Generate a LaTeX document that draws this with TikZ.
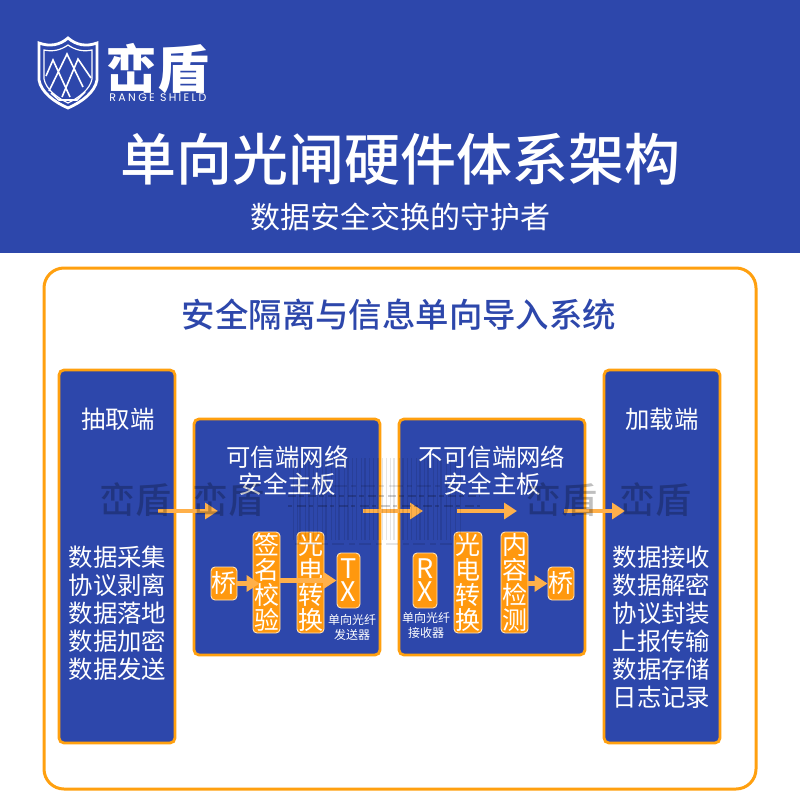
\documentclass[tikz,border=0pt]{standalone}
\usepackage{fontspec}
\setmainfont{Noto Sans CJK SC}
\newfontfamily\cjkmed{Noto Sans CJK SC Medium}
\newfontfamily\cjkblack{Noto Sans CJK SC Black}
\newfontfamily\latinwide[LetterSpace=21]{Poppins}
\usetikzlibrary{arrows.meta}
\definecolor{bandblue}{HTML}{2D47AB}
\definecolor{frameorange}{HTML}{FFA00F}
\definecolor{arroworange}{HTML}{FFB04A}
\newcommand{\fs}[2]{\fontsize{#1}{#2}\selectfont\lineskiplimit=-100pt\relax}
\tikzset{
 x=1pt,y=-1pt,
 bluebox/.style={draw=frameorange,fill=bandblue,line width=2.8pt,rounded corners=5pt,inner sep=0pt},
 boxtext/.style={text=white,font=\fs{24.4}{28},align=center,inner sep=0pt},
 chip/.style={draw=white!70!frameorange,fill=frameorange!95!red,line width=0.9pt,rounded corners=4pt,text=white,align=center,inner sep=0pt,font=\fs{25}{25}},
 micro/.style={text=white,font=\fs{12}{15},align=center,inner sep=0pt},
 flow/.style={draw=arroworange,line width=3.6pt,-{Triangle[length=13pt,width=16pt]}},
 innerflow/.style={flow,line width=4.6pt},
 wm/.style={text=black,opacity=0.25,font=\cjkmed\fs{36}{36},inner sep=0pt},
 bar/.style={draw=black,opacity=0.1},
}
\begin{document}
\begin{tikzpicture}
\useasboundingbox (0,0) rectangle (800,800);
\fill[white] (0,0) rectangle (800,800);
\fill[bandblue] (0,0) rectangle (800,253);

% logo shield
\draw[white,line width=2.8pt,line join=miter] (39,43) .. controls (50,47) and (60,45) .. (68,38) .. controls (76,45) and (86,47) .. (97,43) -- (97,80) .. controls (95,92) and (82,102) .. (68,108) .. controls (54,102) and (41,92) .. (39,80) -- cycle;
\draw[white,line width=1.2pt] (44,50) .. controls (53,52) and (61,50) .. (68,45) .. controls (75,50) and (83,52) .. (92,50) -- (92,79) .. controls (90,89) and (80,97) .. (68,103) .. controls (56,97) and (46,89) .. (44,79) -- cycle;
\draw[white,line width=1.6pt,line join=miter]
 (46,76) -- (53,60) -- (70,97)
 (49,91) -- (67,54) -- (83,87)
 (62,97) -- (78,59) -- (91,78)
 (51,93) -- (59,100) -- (77,100) -- (85,92);
\node[inner sep=0pt,text=white,font=\cjkblack\fs{52}{52}] (logomark) at (157.5,69) {峦盾};
\node[inner sep=0pt,text=white,font=\latinwide\fs{11}{11}] (logoname) at (158,98) {RANGE SHIELD};

\node[inner sep=0pt,text=white,font=\cjkmed\fs{56}{56}] (maintitle) at (400,159) {单向光闸硬件体系架构};
\node[inner sep=0pt,text=white,font=\fs{30}{30}] (subtitle) at (400.5,217) {数据安全交换的守护者};

\node[draw=frameorange,fill=white,line width=3pt,rounded corners=20pt,minimum width=712pt,minimum height=521pt,inner sep=0pt] (panel) at (400,528.5) {};
\node[inner sep=0pt,text=bandblue,font=\cjkmed\fs{33.4}{34}] (paneltitle) at (399,315) {安全隔离与信息单向导入系统};

\node[bluebox,minimum width=116pt,minimum height=373pt] (left) at (117,556.5) {};
\node[bluebox,minimum width=116pt,minimum height=373pt] (right) at (662,556.5) {};
\node[bluebox,minimum width=186pt,minimum height=236pt] (midA) at (287,537) {};
\node[bluebox,minimum width=186pt,minimum height=236pt] (midB) at (492,537) {};

\node[boxtext] (lefthead) at (118,419) {抽取端};
\node[boxtext] (righthead) at (662,419) {加载端};
\node[boxtext] (leftlist) at (117.5,613) {数据采集\\协议剥离\\数据落地\\数据加密\\数据发送};
\node[boxtext] (rightlist) at (661.5,627) {数据接收\\数据解密\\协议封装\\上报传输\\数据存储\\日志记录};
\node[boxtext,font=\fs{24.4}{27}] (headA) at (287.5,470.5) {可信端网络\\安全主板};
\node[boxtext,font=\fs{24.4}{27}] (headB) at (492,470.5) {不可信端网络\\安全主板};

\node[chip,minimum width=26pt,minimum height=33pt] (bridgeA) at (224,583.5) {桥};
\node[chip,minimum width=27pt,minimum height=101pt] (sign) at (266.5,582.5) {签\\名\\校\\验};
\node[chip,minimum width=27pt,minimum height=101pt] (peA) at (310.5,582.5) {光\\电\\转\\换};
\node[chip,minimum width=23pt,minimum height=55pt,font=\fs{27}{23}] (tx) at (348.5,580.5) {T\\X};
\node[micro] (txnote) at (352,627.5) {单向光纤\\发送器};

\node[chip,minimum width=24pt,minimum height=55pt,font=\fs{27}{23}] (rx) at (425,580.5) {R\\X};
\node[micro] (rxnote) at (426,625) {单向光纤\\接收器};
\node[chip,minimum width=28pt,minimum height=101pt] (peB) at (468,582.5) {光\\电\\转\\换};
\node[chip,minimum width=27pt,minimum height=101pt] (check) at (514.5,582.5) {内\\容\\检\\测};
\node[chip,minimum width=26pt,minimum height=33pt] (bridgeB) at (561,583.5) {桥};

% connectors
\coordinate (a1) at (158,511); \coordinate (a2) at (218,511);
\coordinate (b1) at (363,511); \coordinate (b2) at (423,511);
\coordinate (c1) at (457,511); \coordinate (c2) at (517,511);
\coordinate (d1) at (564,511); \coordinate (d2) at (625,511);
\draw[flow] (a1) -- (a2);
\draw[flow] (b1) -- (b2);
\draw[flow] (c1) -- (c2);
\draw[flow] (d1) -- (d2);
\draw[innerflow] (bridgeA.east) -- ([xshift=7pt]sign.west |- bridgeA.east);
\draw[innerflow] (sign.east |- tx.west) -- (tx.west);
\draw[innerflow] (check.east |- bridgeB.west) -- (bridgeB.west);

% watermark
\node[wm] (w1) at (135,500) {峦盾};
\node[wm] (w2) at (228,500) {峦盾};
\node[wm] (w3) at (561,500) {峦盾};
\node[wm] (w4) at (655,500) {峦盾};
\foreach \bx/\bw in {293/1,297/.6,300/1.2,305/.6,309/1.4,313/.6,317/1,322/.6,326/1.4,331/.6,335/1,339/1.2,344/.6,348/1.4,352/.6,356/1,361/.6,365/1.4,369/.6,373/1,378/1.2,382/.6,386/1,390/.6,394/1.2,399/.6,403/1.4,407/.6,411/1,416/.6,420/1.2,424/.6,428/1.4,433/.6,437/1,441/1.2,446/.6,450/1,455/.6,460/1}
 \draw[bar,line width=\bw pt] (\bx,458) -- (\bx,540);
\draw[bar,line width=1.6pt,dash pattern=on 6pt off 4pt on 12pt off 5pt] (295,544) -- (462,544);
\draw[bar,line width=1.6pt,dash pattern=on 5pt off 5pt on 14pt off 4pt] (295,486) -- (462,486);
\draw[bar,line width=2pt,opacity=0.2,dash pattern=on 8pt off 3pt on 5pt off 4pt] (288,496) -- (480,496);
\draw[bar,line width=2pt,opacity=0.2,dash pattern=on 4pt off 5pt on 9pt off 3pt] (288,506) -- (480,506);
\end{tikzpicture}
\end{document}
